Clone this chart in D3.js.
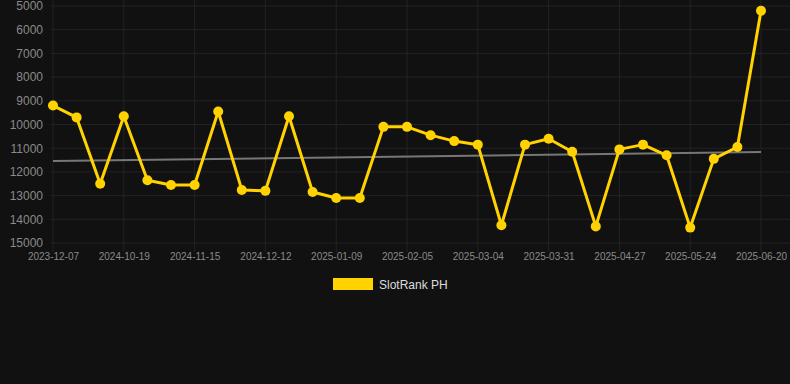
<!DOCTYPE html>
<html><head><meta charset="utf-8">
<script src="https://cdn.jsdelivr.net/npm/d3@7/dist/d3.min.js"></script>
<style>html,body{margin:0;padding:0;background:#111111;}svg{display:block;}</style>
</head><body>
<svg id="chart" width="790" height="384"></svg>
<script>
// Only every third category label is visible in the chart; the others are unknown (null).
const dates = ["2023-12-07",null,null,"2024-10-19",null,null,"2024-11-15",null,null,"2024-12-12",null,null,"2025-01-09",null,null,"2025-02-05",null,null,"2025-03-04",null,null,"2025-03-31",null,null,"2025-04-27",null,null,"2025-05-24",null,null,"2025-06-20"];
const ranks = [9200,9700,12500,9650,12350,12550,12550,9450,12760,12800,9650,12850,13100,13100,10100,10100,10450,10700,10850,14250,10850,10600,11150,14300,11050,10850,11300,14350,11450,10950,5200];
const trendValues = [11540, 11160];
const yTicks = [5000,6000,7000,8000,9000,10000,11000,12000,13000,14000,15000];
const seriesName = "SlotRank PH";

const svg = d3.select("#chart");
const font = "'Liberation Sans', Arial, Helvetica, sans-serif";
const x = d3.scalePoint().domain(d3.range(dates.length)).range([53, 761]);
const y = d3.scaleLinear().domain([5000, 15000]).range([6, 243]);
const labelIdx = d3.range(dates.length).filter(i => dates[i] !== null);

// horizontal grid
svg.append("g").selectAll("line").data(yTicks).join("line")
  .attr("x1", 50).attr("x2", 790)
  .attr("y1", d => y(d)).attr("y2", d => y(d))
  .attr("stroke", "#232323").attr("stroke-width", 1);
// vertical grid
svg.append("g").selectAll("line").data(labelIdx).join("line")
  .attr("x1", d => x(d)).attr("x2", d => x(d))
  .attr("y1", 0).attr("y2", 252)
  .attr("stroke", "#232323").attr("stroke-width", 1);

// y axis labels
const yAxis = d3.axisLeft(y).tickValues(yTicks).tickSize(0).tickPadding(0).tickFormat(d3.format("d"));
const gy = svg.append("g").attr("transform", "translate(43,0)").call(yAxis);
gy.select(".domain").remove();
gy.selectAll("text").attr("fill", "#8a8a8a").attr("font-size", 12).attr("font-family", font);

// x axis labels
const xAxis = d3.axisBottom(x).tickValues(labelIdx).tickSize(0).tickPadding(0).tickFormat(i => dates[i]);
const gx = svg.append("g").attr("transform", "translate(0,253)").call(xAxis);
gx.select(".domain").remove();
gx.selectAll("text").attr("fill", "#8a8a8a").attr("font-size", 10).attr("font-family", font).attr("dy", "0.71em");

// trend line
svg.append("line")
  .attr("x1", x(0)).attr("x2", x(dates.length - 1))
  .attr("y1", y(trendValues[0])).attr("y2", y(trendValues[1]))
  .attr("stroke", "#777777").attr("stroke-width", 2);

// series line
const line = d3.line().x((d, i) => x(i)).y(d => y(d));
svg.append("path").datum(ranks).attr("d", line)
  .attr("fill", "none").attr("stroke", "#FFD200").attr("stroke-width", 3).attr("stroke-linejoin", "round");
svg.append("g").selectAll("circle").data(ranks).join("circle")
  .attr("cx", (d, i) => x(i)).attr("cy", d => y(d)).attr("r", 5)
  .attr("fill", "#FFD200");

// legend
svg.append("rect").attr("x", 333).attr("y", 278).attr("width", 40).attr("height", 12).attr("fill", "#FFD200");
svg.append("text").attr("x", 379).attr("y", 289).text(seriesName)
  .attr("fill", "#dddddd").attr("font-size", 12).attr("font-family", font);
</script>
</body></html>
